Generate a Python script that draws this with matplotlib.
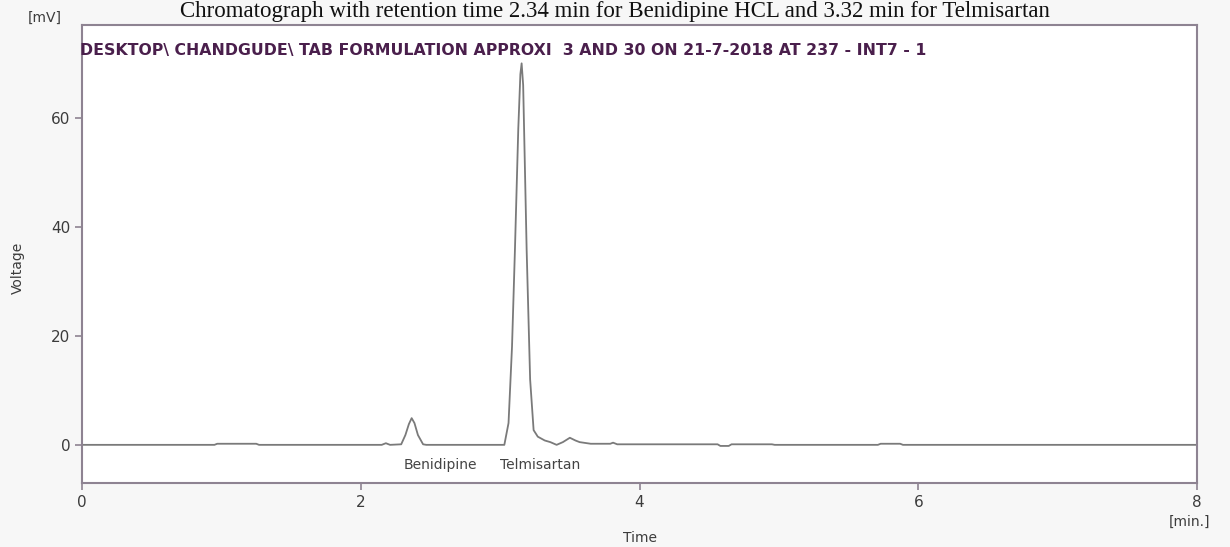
import matplotlib.pyplot as plt

# trace (time in min, voltage in mV)
time = [0.0, 0.95, 0.97, 1.25, 1.27, 2.15, 2.18, 2.21, 2.29, 2.32, 2.345, 2.365,
        2.385, 2.41, 2.447, 2.47, 3.03, 3.06, 3.085, 3.106, 3.13, 3.145, 3.154,
        3.165, 3.19, 3.215, 3.24, 3.27, 3.32, 3.36, 3.405, 3.45, 3.50, 3.54, 3.57,
        3.65, 3.79, 3.81, 3.84, 4.56, 4.58, 4.64, 4.66, 4.95, 4.97, 5.71, 5.73,
        5.87, 5.89, 8.0]
voltage = [0.0, 0.0, 0.2, 0.2, 0.0, 0.0, 0.3, 0.0, 0.1, 1.8, 3.8, 4.9,
           4.0, 1.8, 0.1, 0.0, 0.0, 4.0, 18.0, 35.8, 58.0, 68.0, 70.0,
           66.0, 35.8, 12.0, 2.7, 1.5, 0.8, 0.5, 0.0, 0.5, 1.3, 0.8, 0.5,
           0.2, 0.2, 0.4, 0.1, 0.1, -0.2, -0.2, 0.1, 0.1, 0.0, 0.0, 0.2,
           0.2, 0.0, 0.0]

peak_names = ['Benidipine', 'Telmisartan']
peak_label_x = [2.57, 3.29]
x_ticks = [0, 2, 4, 6, 8]
y_ticks = [0, 20, 40, 60]

header = 'DESKTOP\\ CHANDGUDE\\ TAB FORMULATION APPROXI  3 AND 30 ON 21-7-2018 AT 237 - INT7 - 1'
title = 'Chromatograph with retention time 2.34 min for Benidipine HCL and 3.32 min for Telmisartan'

frame = '#8e8392'
txt = '#3c3c3c'

fig = plt.figure(figsize=(12.3, 5.47), dpi=100, facecolor='#f7f7f7')
ax = fig.add_axes([0.0667, 0.117, 0.9065, 0.837])
ax.set_facecolor('white')

ax.plot(time, voltage, color='#7a7a7a', lw=1.3)

ax.set_xlim(0, 8)
ax.set_ylim(-7, 77)
ax.set_xticks(x_ticks)
ax.set_yticks(y_ticks)
for s in ax.spines.values():
    s.set_color(frame)
    s.set_linewidth(1.5)
ax.tick_params(colors=frame, labelcolor=txt, labelsize=11, length=5, width=1.2)

for name, px in zip(peak_names, peak_label_x):
    ax.text(px, -3.7, name, ha='center', va='center', fontsize=10, color='#444444')

ax.text(-0.002, 0.945, header, transform=ax.transAxes, ha='left', va='center',
        fontsize=11.3, fontweight='bold', color='#4a1f4c')

fig.text(45 / 1230, 1 - 18 / 547, '[mV]', ha='center', va='center', fontsize=10, color=txt)
fig.text(1190 / 1230, 1 - 522 / 547, '[min.]', ha='center', va='center', fontsize=10, color=txt)
fig.text(18 / 1230, 1 - 268 / 547, 'Voltage', ha='center', va='center', rotation=90,
         fontsize=10, color=txt)
fig.text(640 / 1230, 1 - 538 / 547, 'Time', ha='center', va='center', fontsize=10, color=txt)

fig.text(0.5, 1 - 1 / 547, title, ha='center', va='top', fontsize=16.5,
         family='Liberation Serif', color='#111111')

fig.savefig('out.png', dpi=100, facecolor=fig.get_facecolor())
